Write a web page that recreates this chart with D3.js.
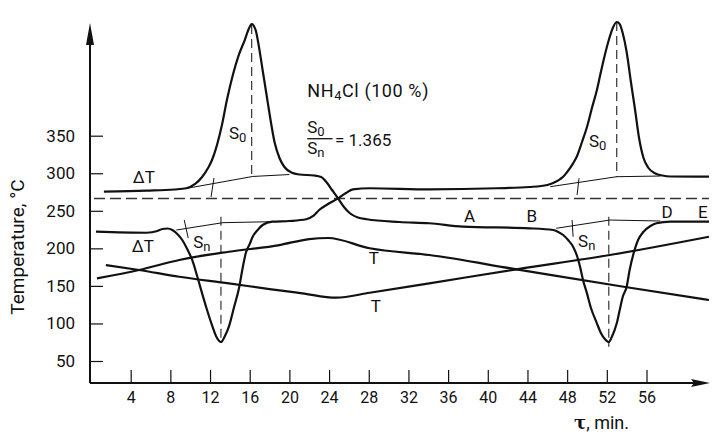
<!DOCTYPE html>
<html>
<head>
<meta charset="utf-8">
<script src="https://cdn.jsdelivr.net/npm/d3@7"></script>
<style>
  body { margin: 0; background: #fff; }
  text { font-family: Roboto, "DejaVu Sans", sans-serif; fill: #111; }
</style>
</head>
<body>
<svg id="chart"></svg>
<script>
// tick labels
const xTicks = [4, 8, 12, 16, 20, 24, 28, 32, 36, 40, 44, 48, 52, 56];
const yTicks = [50, 100, 150, 200, 250, 300, 350];

// ΔT curve that starts high (S0 peak at ~16 min, Sn trough at ~52 min)
const dtCurveA = [
  [1.3, 275.4], [5.6, 276.8], [8.4, 278.4], [9.6, 280.0], [10.5, 285.7], [11.2, 295.0],
  [11.8, 307.0], [12.2, 317.6], [12.7, 337.6], [13.2, 364.2], [13.7, 397.5], [14.3, 430.8],
  [14.9, 457.5], [15.5, 477.4], [15.9, 492.1], [16.2, 498.7], [16.6, 490.7], [16.9, 470.8],
  [17.3, 437.5], [17.7, 404.2], [18.1, 370.9], [18.5, 341.6], [19.0, 320.3], [19.5, 308.3],
  [20.2, 301.0], [21.0, 298.3], [22.5, 297.0], [23.2, 295.0], [23.8, 287.0], [24.3, 277.7],
  [24.9, 266.6], [25.5, 255.1], [26.1, 246.7], [26.9, 241.1], [27.8, 238.7], [31.1, 235.1],
  [34.1, 233.4], [37.5, 228.9], [44.2, 226.7], [46.6, 224.4], [47.1, 221.8], [47.6, 217.8],
  [48.1, 211.1], [48.6, 202.2], [49.0, 189.8], [49.3, 175.6], [49.6, 157.8], [50.0, 140.1],
  [50.4, 120.6], [51.0, 100.2], [51.4, 87.3], [51.8, 79.3], [52.2, 75.3], [52.5, 82.0],
  [53.0, 100.2], [53.3, 117.9], [53.6, 135.2], [54.0, 148.9], [54.3, 171.2], [54.7, 193.4],
  [55.15, 211.1], [55.7, 222.2], [56.4, 229.8], [57.0, 233.4], [58.4, 235.5], [62.3, 235.5]
];

// ΔT curve that starts low (Sn trough at ~13 min, S0 peak at ~53 min)
const dtCurveB = [
  [0.5, 222.2], [5.6, 220.8], [6.7, 223.1], [7.2, 225.8], [7.7, 226.4], [8.2, 224.4],
  [8.7, 219.1], [9.2, 211.1], [9.7, 199.1], [10.2, 184.5], [10.7, 163.2], [11.2, 140.1],
  [11.7, 117.9], [12.25, 95.7], [12.6, 83.3], [13.1, 75.3], [13.5, 83.3], [13.9, 95.7],
  [14.4, 120.6], [14.95, 148.9], [15.25, 171.2], [15.6, 193.4], [16.0, 205.8], [16.3, 215.5],
  [16.8, 224.4], [17.3, 231.1], [18.3, 235.5], [20.0, 236.4], [21.7, 238.7], [22.4, 243.1],
  [23.0, 251.1], [23.9, 259.1], [24.9, 266.6], [25.7, 273.7], [26.4, 278.6], [28.1, 280.0],
  [34.1, 278.6], [40.9, 280.0], [44.2, 281.7], [46.0, 284.4], [46.8, 288.3], [47.3, 292.3],
  [47.6, 295.4], [48.0, 301.7], [48.6, 313.2], [49.0, 323.0], [49.5, 341.6], [50.0, 361.6],
  [50.5, 386.9], [51.0, 410.9], [51.4, 434.8], [51.8, 457.5], [52.2, 477.4], [52.6, 493.4],
  [53.0, 501.4], [53.3, 498.7], [53.6, 486.8], [54.0, 461.5], [54.4, 424.2], [54.85, 384.2],
  [55.25, 346.9], [55.7, 320.3], [56.2, 307.0], [56.9, 299.7], [57.6, 297.0], [58.4, 295.7],
  [62.3, 295.4]
];

// furnace temperature curves
const tRising = [
  [0.6, 160.1], [4.85, 171.2], [8.9, 184.5], [13.9, 195.5], [19.0, 204.4], [22.0, 212.4],
  [23.9, 213.8], [28.1, 200.1], [34.1, 191.1], [42.9, 172.1], [53.7, 148.9], [62.3, 131.2]
];
const tFalling = [
  [1.5, 177.8], [4.85, 171.2], [8.9, 162.2], [13.9, 153.4], [18.0, 145.8], [21.3, 140.1],
  [24.7, 134.3], [28.1, 140.9], [34.1, 153.4], [42.9, 172.1], [52.3, 191.1], [62.3, 215.5]
];

// thin interpolated baselines under the peaks
const peakBaselines = [
  [[9.7, 280.0], [16.3, 295.7], [20.0, 298.3]],
  [[8.6, 224.4], [13.3, 234.2], [18.3, 235.5]],
  [[46.3, 282.1], [53.0, 295.4], [57.4, 296.3]],
  [[46.9, 226.7], [52.3, 237.7], [57.4, 236.4]]
];
// short cross marks on the baselines: [t1, v1, t2, v2]
const baselineMarks = [
  [12.1, 268.4, 12.4, 293.7],
  [9.4, 237.7, 9.8, 213.8],
  [49.2, 293.3, 49.0, 271.0],
  [48.5, 237.7, 48.6, 215.5]
];
// dashed verticals from peak tops: [t, vTop, vBottom]
const peakDrops = [
  [16.2, 497.4, 295.0],
  [13.1, 242.1, 75.3],
  [53.0, 501.4, 295.0],
  [52.2, 242.1, 69.0]
];
const refLevel = 266.4;
const refSpan = [0.3, 62.3];

// annotations: text parts, [text, subscript?]
const notes = [
  { t: 4.2, v: 287.0, parts: [["ΔT"]] },
  { t: 4.1, v: 195.5, parts: [["ΔT"]] },
  { t: 10.3, v: 200.5, parts: [["S"], ["n", 1]] },
  { t: 13.9, v: 345.6, parts: [["S"], ["0", 1]] },
  { t: 50.2, v: 335.5, parts: [["S"], ["0", 1]] },
  { t: 49.1, v: 201.8, parts: [["S"], ["n", 1]] },
  { t: 37.6, v: 235.5, parts: [["A"]] },
  { t: 43.9, v: 235.5, parts: [["B"]] },
  { t: 57.5, v: 240.4, parts: [["D"]] },
  { t: 61.2, v: 240.4, parts: [["E"]] },
  { t: 28.0, v: 179.2, parts: [["T"]] },
  { t: 28.2, v: 115.6, parts: [["T"]] },
  { t: 21.8, v: 401.5, parts: [["NH"], ["4", 1], ["Cl  (100 %)"]] },
  { t: 21.8, v: 353.0, parts: [["S"], ["0", 1]] },
  { t: 21.8, v: 325.5, parts: [["S"], ["n", 1]] },
  { t: 24.6, v: 336.3, parts: [["= 1.365"]] }
];
const fractionBar = [21.8, 24.35, 346.0];

const width = 713, height = 434;
const svg = d3.select('#chart').attr('width', width).attr('height', height);

const x = d3.scaleLinear().domain([0, 56]).range([91, 646.5]);
const y = d3.scaleLinear().domain([50, 350]).range([361, 135.7]);
const axisY = 383;

// x axis
const gx = svg.append('g').attr('transform', `translate(0,${axisY})`)
  .call(d3.axisBottom(x).tickValues(xTicks).tickSize(-13).tickPadding(9).tickFormat(d3.format('d')));
gx.select('.domain').remove();
gx.selectAll('.tick line').attr('stroke', '#111').attr('stroke-width', 1.2);
gx.selectAll('.tick text').attr('font-size', 16).attr('fill', '#111');

// y axis
const gy = svg.append('g').attr('transform', `translate(${x(0) - 1},0)`)
  .call(d3.axisLeft(y).tickValues(yTicks).tickSize(-13).tickPadding(15));
gy.select('.domain').remove();
gy.selectAll('.tick line').attr('stroke', '#111').attr('stroke-width', 1.2);
gy.selectAll('.tick text').attr('font-size', 17).attr('fill', '#111');

// axis lines with arrows
const ax0 = x(0) - 1;
svg.append('line').attr('x1', ax0).attr('y1', axisY).attr('x2', 694).attr('y2', axisY)
  .attr('stroke', '#111').attr('stroke-width', 2);
svg.append('line').attr('x1', ax0).attr('y1', axisY).attr('x2', ax0).attr('y2', 42)
  .attr('stroke', '#111').attr('stroke-width', 2);
svg.append('path').attr('d', `M${ax0},23 L${ax0 + 4},45 L${ax0 - 4},45 Z`).attr('fill', '#111');
svg.append('path').attr('d', `M710,${axisY} L691,${axisY - 4} L694,${axisY} L691,${axisY + 4} Z`).attr('fill', '#111');

const line = d3.line().x(d => x(d[0])).y(d => y(d[1])).curve(d3.curveMonotoneX);
const straight = d3.line().x(d => x(d[0])).y(d => y(d[1]));

// dashed reference level
svg.append('line')
  .attr('x1', x(refSpan[0])).attr('x2', x(refSpan[1]))
  .attr('y1', y(refLevel)).attr('y2', y(refLevel))
  .attr('stroke', '#333').attr('stroke-width', 1.3).attr('stroke-dasharray', '11,5');

// dashed verticals
svg.selectAll('.drop').data(peakDrops).join('line')
  .attr('x1', d => x(d[0])).attr('x2', d => x(d[0]))
  .attr('y1', d => y(d[1])).attr('y2', d => y(d[2]))
  .attr('stroke', '#222').attr('stroke-width', 1.1).attr('stroke-dasharray', '9,5');

// thin baselines
svg.selectAll('.base').data(peakBaselines).join('path')
  .attr('d', straight).attr('fill', 'none').attr('stroke', '#111').attr('stroke-width', 1);
svg.selectAll('.mark').data(baselineMarks).join('line')
  .attr('x1', d => x(d[0])).attr('y1', d => y(d[1]))
  .attr('x2', d => x(d[2])).attr('y2', d => y(d[3]))
  .attr('stroke', '#111').attr('stroke-width', 1);

// temperature lines
[tRising, tFalling].forEach(s => {
  svg.append('path').attr('d', line(s)).attr('fill', 'none')
    .attr('stroke', '#111').attr('stroke-width', 2.2);
});

// ΔT curves
[dtCurveA, dtCurveB].forEach(s => {
  svg.append('path').attr('d', line(s)).attr('fill', 'none')
    .attr('stroke', '#111').attr('stroke-width', 2.2).attr('stroke-linejoin', 'round');
});

// annotations
notes.forEach(n => {
  const t = svg.append('text').attr('x', x(n.t)).attr('y', y(n.v)).attr('font-size', 17);
  n.parts.forEach((p, i) => {
    const ts = t.append('tspan').text(p[0]);
    if (p[1]) ts.attr('dy', 3).attr('font-size', 13);
    else if (i > 0) ts.attr('dy', -3);
  });
});
// the formula line a bit wider like the reference lettering
svg.selectAll('text').filter(function () { return this.textContent.startsWith('NH'); })
  .attr('font-size', 18).attr('letter-spacing', 0.6);
svg.append('line')
  .attr('x1', x(fractionBar[0])).attr('x2', x(fractionBar[1]))
  .attr('y1', y(fractionBar[2])).attr('y2', y(fractionBar[2]))
  .attr('stroke', '#111').attr('stroke-width', 1.3);

// axis titles
svg.append('text')
  .attr('transform', 'translate(24,247) rotate(-90)')
  .attr('text-anchor', 'middle')
  .attr('font-size', 19)
  .text('Temperature, °C');

const xt = svg.append('text').attr('x', 574).attr('y', 429).attr('font-size', 18);
xt.append('tspan').attr('font-family', '"DejaVu Serif", serif').attr('font-weight', 'bold').text('τ');
xt.append('tspan').text(', min.');
</script>
</body>
</html>
